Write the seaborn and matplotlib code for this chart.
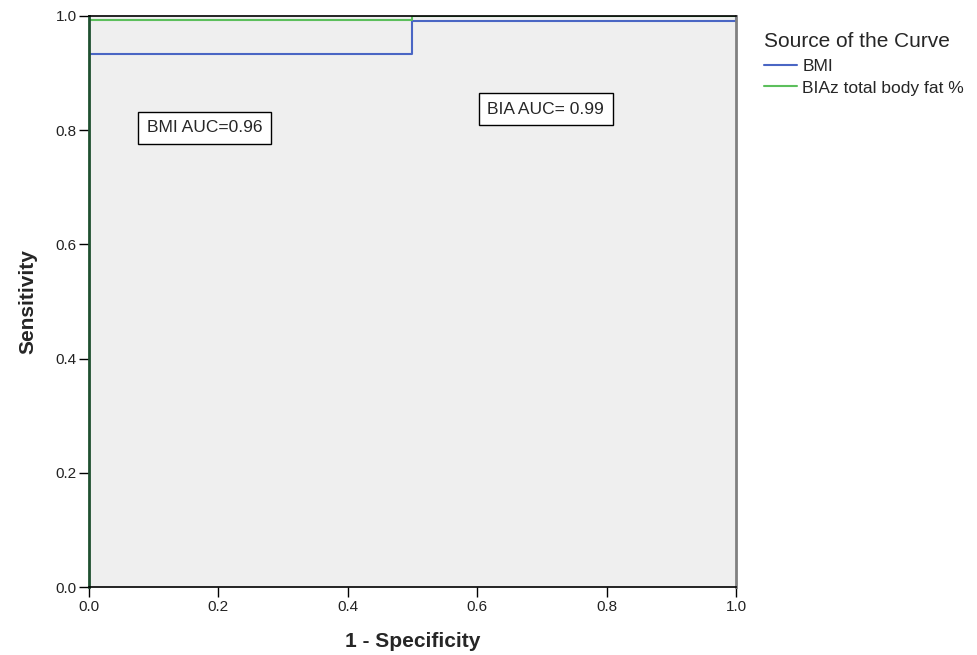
import pandas as pd
import matplotlib
matplotlib.use('Agg')
import matplotlib.pyplot as plt
import seaborn as sns

# ROC curve points (1 - specificity, sensitivity)
bmi_fpr = [0.0, 0.0, 0.5, 0.5, 1.0, 1.0]
bmi_tpr = [0.0, 0.933, 0.933, 0.991, 0.991, 1.0]
bia_fpr = [0.0, 0.0, 0.5, 0.5, 1.0]
bia_tpr = [0.0, 0.993, 0.993, 1.0, 1.0]
curve_names = ['BMI', 'BIAz total body fat %']
curve_colors = ['#4a66c4', '#5cbf5c']
ticks = [0.0, 0.2, 0.4, 0.6, 0.8, 1.0]

df = pd.concat([
    pd.DataFrame({'fpr': bmi_fpr, 'tpr': bmi_tpr, 'curve': curve_names[0]}),
    pd.DataFrame({'fpr': bia_fpr, 'tpr': bia_tpr, 'curve': curve_names[1]}),
])

sns.set_style('white')
plt.rcParams['font.family'] = ['Liberation Sans', 'DejaVu Sans']

fig = plt.figure(figsize=(9.77, 6.55), dpi=100)
ax = fig.add_axes([0.0911, 0.1038, 0.6622, 0.8718])
ax.set_facecolor('#efefef')

sns.lineplot(data=df, x='fpr', y='tpr', hue='curve', palette=curve_colors,
             sort=False, estimator=None, linewidth=1.5, ax=ax, legend=False)

ax.set_xlim(0, 1)
ax.set_ylim(0, 1)
ax.set_xticks(ticks)
ax.set_yticks(ticks)
ax.set_xticklabels([f'{t:.1f}' for t in ticks], fontsize=11)
ax.set_yticklabels([f'{t:.1f}' for t in ticks], fontsize=11)
ax.tick_params(bottom=True, left=True, direction='out', length=7, width=1,
               color='black', pad=2, labelcolor='#222222')
ax.set_xlabel('1 - Specificity', fontsize=15, fontweight='bold', labelpad=13)
ax.set_ylabel('Sensitivity', fontsize=15, fontweight='bold', labelpad=13)

for side in ['top', 'bottom']:
    ax.spines[side].set_color('black')
    ax.spines[side].set_linewidth(1.2)
ax.spines['left'].set_color('#1f5030')
ax.spines['left'].set_linewidth(2)
ax.spines['right'].set_color('#808080')
ax.spines['right'].set_linewidth(2)

box = dict(boxstyle='square,pad=0.5', facecolor='white', edgecolor='black', linewidth=1)
ax.text(0.179, 0.804, 'BMI AUC=0.96', fontsize=12.5, ha='center', va='center', bbox=box)
ax.text(0.706, 0.837, 'BIA AUC= 0.99', fontsize=12.5, ha='center', va='center', bbox=box)

handles = [plt.Line2D([0], [0], color=c, linewidth=1.5) for c in curve_colors]
leg = fig.legend(handles, curve_names, title='Source of the Curve', loc='upper left',
                 bbox_to_anchor=(0.775, 0.962), frameon=False, fontsize=12.5,
                 title_fontsize=15, handlelength=1.9, handletextpad=0.3,
                 labelspacing=0.35, alignment='left', borderaxespad=0)
leg._legend_box.sep = 6

fig.savefig('out.png', dpi=100)
